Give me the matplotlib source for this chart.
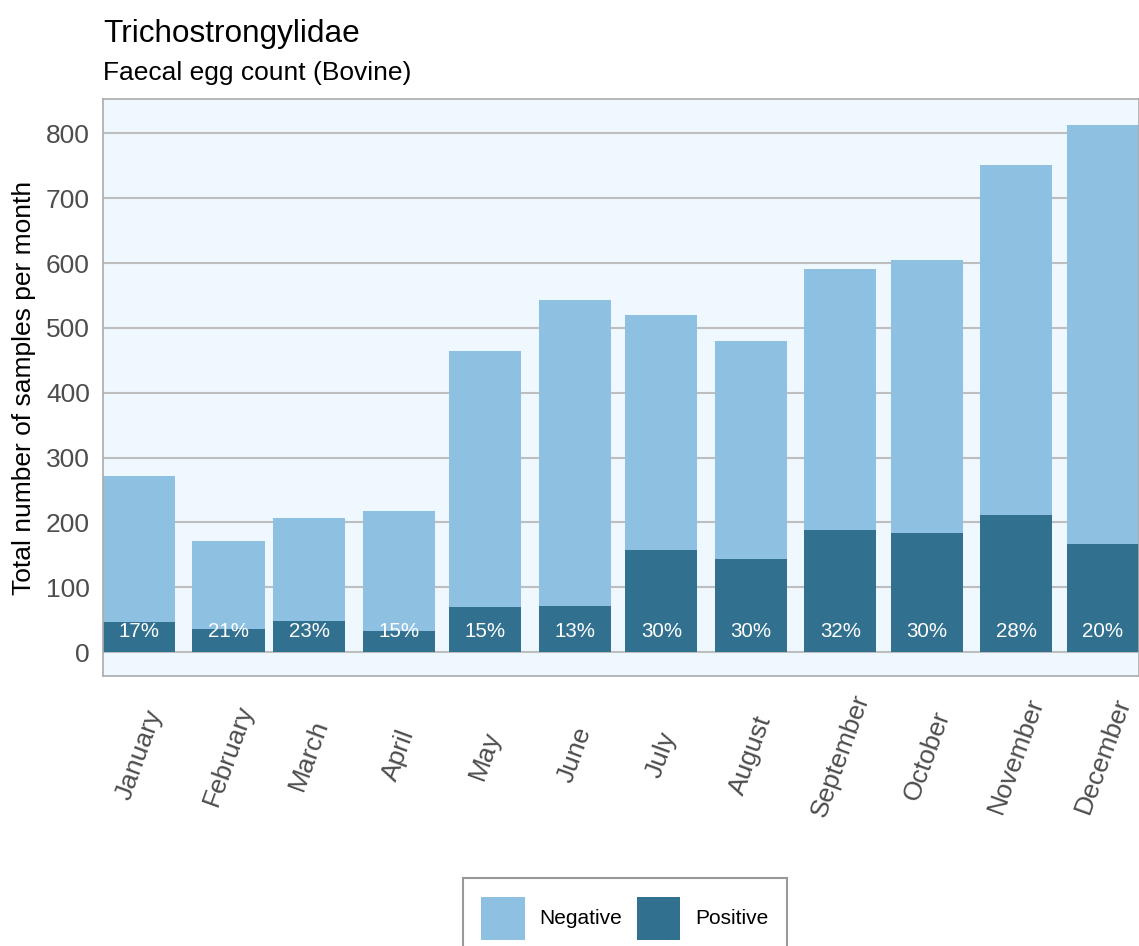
import datetime

import numpy as np
import matplotlib
matplotlib.use("Agg")
import matplotlib.pyplot as plt
import matplotlib.dates as mdates
from matplotlib.patches import Patch

plt.rcParams["font.family"] = ["Liberation Sans", "DejaVu Sans"]

months = ["January", "February", "March", "April", "May", "June",
          "July", "August", "September", "October", "November", "December"]
positive = [46, 36, 48, 33, 70, 71, 157, 144, 188, 183, 211, 166]
negative = [225, 135, 159, 184, 394, 472, 363, 336, 403, 422, 540, 647]
yticks = [0, 100, 200, 300, 400, 500, 600, 700, 800]

neg_color = "#8EC0E2"
pos_color = "#31708F"

dates = [datetime.date(2023, m, 1) for m in range(1, 13)]
x = mdates.date2num(dates)
pos = np.array(positive)
neg = np.array(negative)
total = pos + neg
pct = np.round(100 * pos / total).astype(int)

W, H = 1139, 946
fig = plt.figure(figsize=(W / 100, H / 100), dpi=100)
ax = fig.add_axes([103 / W, 1 - 676 / H, 1036 / W, 577 / H])
ax.set_facecolor("#F0F8FF")

width = 25  # days
ax.bar(x, pos, width=width, color=pos_color, zorder=2, label="Positive")
ax.bar(x, neg, width=width, bottom=pos, color=neg_color, zorder=2, label="Negative")

for xi, p in zip(x, pct):
    ax.text(xi, 31, f"{p}%", color="white", fontsize=14.8,
            ha="center", va="center", zorder=3)

ax.set_xlim(x[0] - width / 2, x[-1] + width / 2)
ax.set_ylim(-37, 853)
ax.set_yticks(yticks)
ax.set_xticks(x)
ax.set_xticklabels(months, rotation=70, ha="center", va="center")
ax.tick_params(axis="x", length=0, pad=57, labelsize=19, labelcolor="#4D4D4D")
ax.tick_params(axis="y", length=0, pad=9.5, labelsize=19, labelcolor="#4D4D4D")
ax.yaxis.grid(True, color="#BEBEBE", linewidth=1.5, zorder=1)
ax.set_axisbelow(True)
for s in ax.spines.values():
    s.set_color("#ABABAB")
    s.set_linewidth(1.2)

fig.text(24 / W, 0.5 * ((1 - 99 / H) + (1 - 676 / H)),
         "Total number of samples per month", rotation=90,
         ha="center", va="center", fontsize=19)
fig.text(103 / W, 1 - 42 / H, "Trichostrongylidae", fontsize=22.7, va="baseline")
fig.text(103 / W, 1 - 80 / H, "Faecal egg count (Bovine)", fontsize=19, va="baseline")

handles = [Patch(facecolor=neg_color, label="Negative"),
           Patch(facecolor=pos_color, label="Positive")]
leg = fig.legend(handles=handles, loc="upper center", ncol=2,
                 bbox_to_anchor=(625 / W, 1 - 878 / H), fontsize=15,
                 frameon=True, fancybox=False, handlelength=2.07,
                 handleheight=2.8, handletextpad=0.72, columnspacing=0.72,
                 borderpad=0.9, borderaxespad=0)
leg.get_frame().set_edgecolor("#808080")
leg.get_frame().set_linewidth(1.5)

fig.savefig("out.png", dpi=100)
